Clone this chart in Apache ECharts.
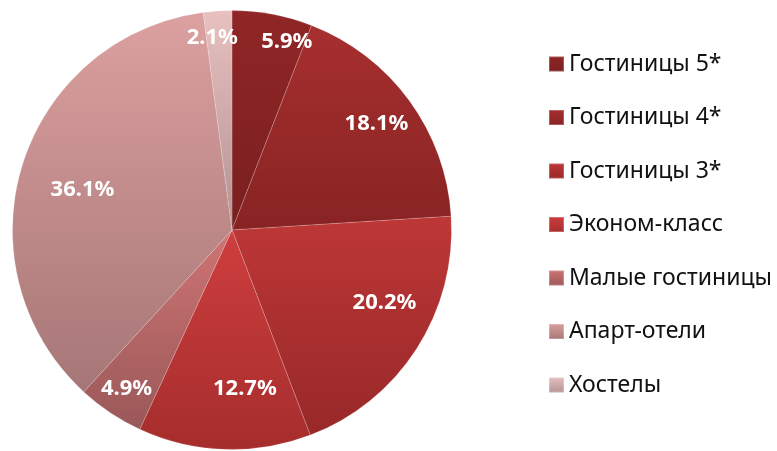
<!DOCTYPE html>
<html>
<head>
<meta charset="utf-8">
<script src="https://cdn.jsdelivr.net/npm/echarts@6/dist/echarts.min.js"></script>
<style>
  html, body { margin: 0; padding: 0; background: #fff; }
  #hotel_pie { width: 777px; height: 451px; }
</style>
</head>
<body>
<div id="hotel_pie"></div>
<script>
// доли сегментов, %
var categories = ['Гостиницы 5*', 'Гостиницы 4*', 'Гостиницы 3*', 'Эконом-класс', 'Малые гостиницы', 'Апарт-отели', 'Хостелы'];
var shares = [5.9, 18.1, 20.2, 12.7, 4.9, 36.1, 2.1];

// верх / низ градиента для каждого сегмента
var topColors = ['#902626', '#A72F2F', '#BE3737', '#CE3E3E', '#CF7474', '#DCA0A0', '#E8C0C0'];
var bottomColors = ['#7A1F1F', '#882323', '#982828', '#A62D2D', '#9A5858', '#A67676', '#B39393'];

// сдвиг подписей относительно середины кольца (как разложил их Excel)
var labelShift = [[22, -14], [1, -1], [3, -23], [19, -19], [-7, 11], [20, 13], [-8, -15]];

function grad(i) {
  return new echarts.graphic.LinearGradient(0, 0, 0, 1, [
    { offset: 0, color: topColors[i] },
    { offset: 1, color: bottomColors[i] }
  ]);
}

var chart = echarts.init(document.getElementById('hotel_pie'));

var pieData = categories.map(function (name, i) {
  return { name: name, value: shares[i], itemStyle: { color: grad(i) } };
});
var labelData = categories.map(function (name, i) {
  return { name: name, value: shares[i] };
});

chart.setOption({
  animation: false,
  legend: {
    orient: 'vertical',
    left: 543,
    top: 46,
    itemWidth: 15,
    itemHeight: 15,
    itemGap: 27.5,
    icon: 'rect',
    data: categories,
    textStyle: {
      fontFamily: 'Noto Sans',
      fontSize: 23,
      lineHeight: 26,
      color: '#111'
    }
  },
  series: [
    {
      type: 'pie',
      center: [232, 230],
      radius: [0, 219.5],
      startAngle: 90,
      clockwise: true,
      label: { show: false },
      labelLine: { show: false },
      itemStyle: {
        borderColor: 'rgba(255,255,255,0.25)',
        borderWidth: 0.7
      },
      emphasis: { disabled: true },
      data: pieData
    },
    {
      // прозрачное кольцо только для подписей
      type: 'pie',
      silent: true,
      center: [232, 230],
      radius: [130, 219.5],
      startAngle: 90,
      clockwise: true,
      avoidLabelOverlap: false,
      itemStyle: { color: 'rgba(0,0,0,0)' },
      labelLine: { show: false },
      label: {
        show: true,
        position: 'inside',
        overflow: 'none',
        color: '#fff',
        fontFamily: 'Noto Sans',
        fontWeight: 'bold',
        fontSize: 22,
        formatter: function (p) { return p.value.toFixed(1) + '%'; }
      },
      labelLayout: function (params) {
        var s = labelShift[params.dataIndex];
        return { dx: s[0], dy: s[1], hideOverlap: false };
      },
      emphasis: { disabled: true },
      data: labelData
    }
  ]
});
</script>
</body>
</html>
